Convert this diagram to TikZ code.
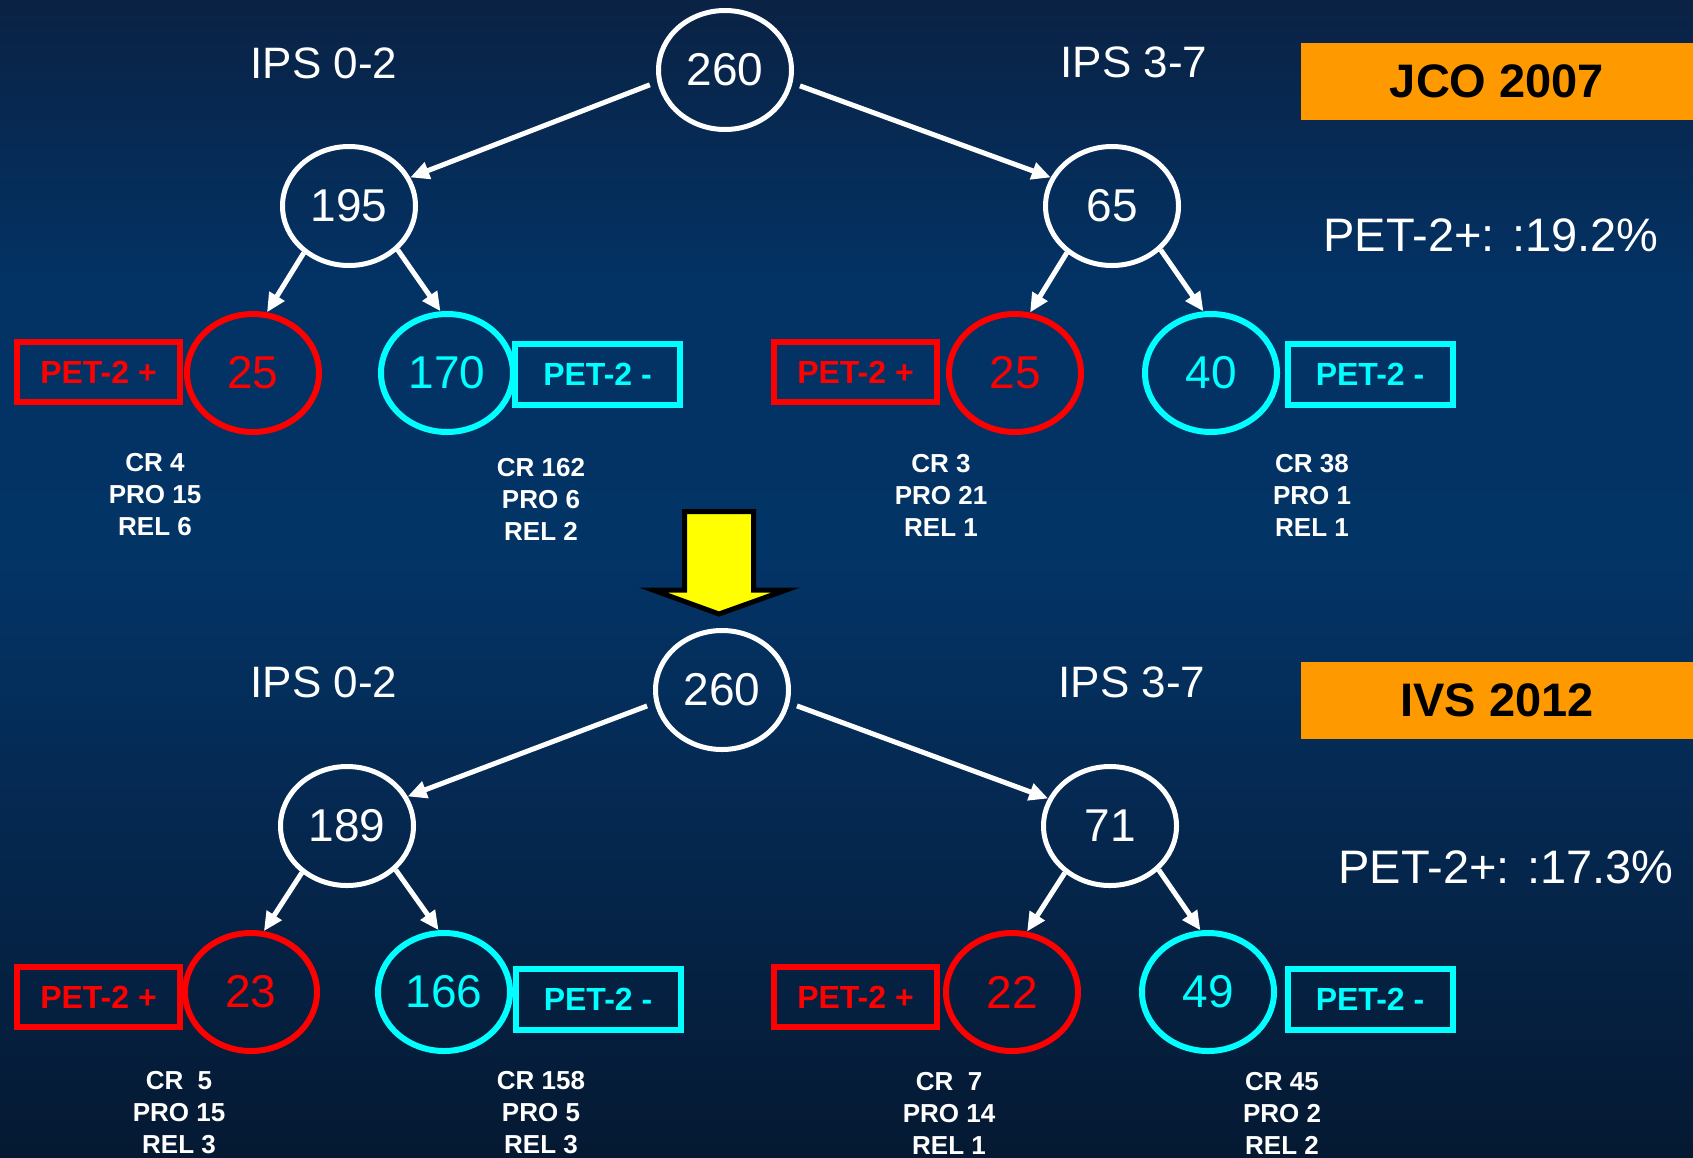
\documentclass[tikz,border=0pt]{standalone}
\usepackage{fontspec}
\setmainfont{Liberation Sans}
\usetikzlibrary{shapes.geometric,arrows.meta}
\definecolor{bgTop}{HTML}{0A2244}
\definecolor{bgA}{HTML}{033264}
\definecolor{bgB}{HTML}{033466}
\definecolor{bgC}{HTML}{052850}
\definecolor{bgBot}{HTML}{051932}
\definecolor{orng}{HTML}{FF9900}
\definecolor{yel}{HTML}{FFFF00}
\definecolor{cyn}{RGB}{0,255,255}
\definecolor{rd}{RGB}{255,0,0}
\pgfdeclareverticalshading{bgshade}{100bp}{color(0bp)=(bgBot); color(25bp)=(bgBot); color(39.6bp)=(bgC); color(50.8bp)=(bgB); color(62.9bp)=(bgA); color(75bp)=(bgTop); color(100bp)=(bgTop)}
\tikzset{
  num/.style={ellipse, inner sep=0pt, font=\fontsize{46}{50}\selectfont},
  wnum/.style={num, draw=white, text=white, line width=5pt, minimum width=133pt, minimum height=119pt},
  rnum/.style={num, draw=rd, text=rd, line width=6pt, minimum width=132pt, minimum height=118pt},
  cnum/.style={num, draw=cyn, text=cyn, line width=6pt, minimum width=132pt, minimum height=118pt},
  tag/.style={rectangle, line width=6pt, inner sep=0pt, font=\bfseries\fontsize{32}{36}\selectfont},
  rtag/.style={tag, draw=rd, text=rd, minimum width=163pt, minimum height=60pt},
  ctag/.style={tag, draw=cyn, text=cyn, minimum width=165pt, minimum height=61pt},
  stat/.style={align=center, text=white, inner sep=0pt, font=\bfseries\fontsize{26}{32}\selectfont},
  ips/.style={text=white, inner sep=0pt, font=\fontsize{44}{48}\selectfont},
  pct/.style={text=white, inner sep=0pt, font=\fontsize{47}{50}\selectfont},
  banner/.style={fill=orng, text=black, inner sep=0pt, minimum width=392pt, minimum height=77pt, font=\bfseries\fontsize{47}{50}\selectfont},
  link/.style={draw=white, line width=5pt, -{Triangle[length=19pt,width=17pt]}},
  bigarrow/.style={draw=black, fill=yel, line width=5pt, line join=miter}
}
\begin{document}
\begin{tikzpicture}[x=1pt,y=-1pt]
\useasboundingbox (0,0) rectangle (1693,1157);
\shade[shading=bgshade] (0,0) rectangle (1693,1157);

% ---------- top tree (JCO 2007) ----------
\node[ips] (ipsA1) at (324,63) {IPS 0-2};
\node[ips] (ipsA2) at (1134,62) {IPS 3-7};
\node[banner] (jco) at (1497,81.5) {JCO 2007};
\node[pct] (pctA) at (1491,235) {PET-2+: :19.2\%};

\node[wnum] (a0) at (725,70) {260};
\node[wnum] (a1) at (349,206) {195};
\node[wnum] (a2) at (1112,206) {65};
\node[rnum] (a11) at (253,373) {25};
\node[cnum] (a12) at (447,373) {170};
\node[rnum] (a21) at (1015,373) {25};
\node[cnum] (a22) at (1211,373) {40};

\node[rtag] (ta11) at (98.5,372) {PET-2 +};
\node[ctag] (ta12) at (597.5,374.5) {PET-2 -};
\node[rtag] (ta21) at (855.5,372) {PET-2 +};
\node[ctag] (ta22) at (1370,374.5) {PET-2 -};

\node[stat] (sa11) at (155,495) {CR 4\\PRO 15\\REL 6};
\node[stat] (sa12) at (541,499) {CR 162\\PRO 6\\REL 2};
\node[stat] (sa21) at (941,495) {CR 3\\PRO 21\\REL 1};
\node[stat] (sa22) at (1312,495) {CR 38\\PRO 1\\REL 1};

\draw[link, shorten <=8pt] (a0.190) -- (a1.25);
\draw[link, shorten <=8pt] (a0.349) -- (a2.155);
\draw[link] (a1.226) -- (a11.77);
\draw[link] (a1.318) -- (a12.96);
\draw[link] (a2.226) -- (a21.76);
\draw[link] (a2.318) -- (a22.97);

% ---------- yellow arrow ----------
\draw[bigarrow] (684.5,511.5) -- (753.5,511.5) -- (753.5,590) -- (786,590) -- (719,614) -- (653,590) -- (684.5,590) -- cycle;

% ---------- bottom tree (IVS 2012) ----------
\node[ips] (ipsB1) at (324,682) {IPS 0-2};
\node[ips] (ipsB2) at (1132,682) {IPS 3-7};
\node[banner] (ivs) at (1497,700) {IVS 2012};
\node[pct] (pctB) at (1506,867) {PET-2+: :17.3\%};

\node[wnum] (b0) at (722,690) {260};
\node[wnum] (b1) at (347,826) {189};
\node[wnum] (b2) at (1110,826) {71};
\node[rnum] (b11) at (251,992) {23};
\node[cnum] (b12) at (444,992) {166};
\node[rnum] (b21) at (1012,992) {22};
\node[cnum] (b22) at (1208,992) {49};

\node[rtag] (tb11) at (98.5,997) {PET-2 +};
\node[ctag] (tb12) at (598,999.5) {PET-2 -};
\node[rtag] (tb21) at (855.5,997) {PET-2 +};
\node[ctag] (tb22) at (1370,999.5) {PET-2 -};

\node[stat] (sb11) at (179,1113) {CR\ \ 5\\PRO 15\\REL 3};
\node[stat] (sb12) at (541,1113) {CR 158\\PRO 5\\REL 3};
\node[stat] (sb21) at (949,1113) {CR\ \ 7\\PRO 14\\REL 1};
\node[stat] (sb22) at (1282,1113) {CR 45\\PRO 2\\REL 2};

\draw[link, shorten <=8pt] (b0.191) -- (b1.26);
\draw[link, shorten <=8pt] (b0.349) -- (b2.156);
\draw[link] (b1.226) -- (b11.78);
\draw[link] (b1.318) -- (b12.95);
\draw[link] (b2.226) -- (b21.76);
\draw[link] (b2.318) -- (b22.97);
\end{tikzpicture}
\end{document}
